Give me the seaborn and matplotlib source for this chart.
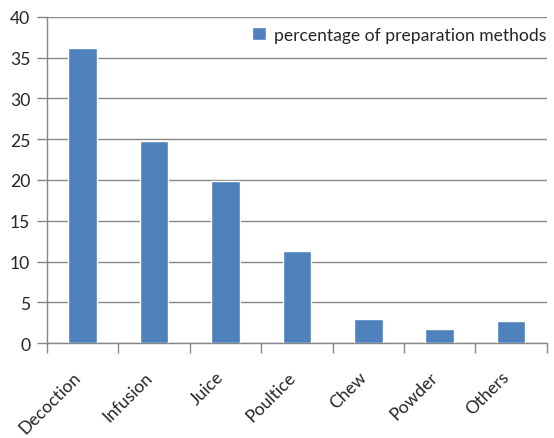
import matplotlib
matplotlib.use("Agg")
import matplotlib.pyplot as plt
import matplotlib.transforms as mtransforms
import seaborn as sns
import pandas as pd
from matplotlib.ticker import FixedLocator

methods = ["Decoction", "Infusion", "Juice", "Poultice", "Chew", "Powder", "Others"]
percentages = [36.2, 24.8, 19.9, 11.3, 2.9, 1.7, 2.7]
series_name = "percentage of preparation methods"
y_ticks = [0, 5, 10, 15, 20, 25, 30, 35, 40]

df = pd.DataFrame({"method": methods, "pct": percentages})

sns.set_style("white")
plt.rcParams["font.family"] = ["Lato", "DejaVu Sans"]

fig = plt.figure(figsize=(5.54, 4.39), dpi=100)
ax = fig.add_axes([0.0848, 0.2164, 0.9022, 0.7426])

bar_color = "#4F81BD"
grid_color = "#878787"
fs = 12.6

sns.barplot(data=df, x="method", y="pct", color=bar_color, width=0.4,
            saturation=1, label=series_name, ax=ax, zorder=3)

ax.set_xlim(-0.5, len(methods) - 0.5)
ax.set_ylim(0, 40)
ax.set_yticks(y_ticks)
ax.yaxis.grid(True, color=grid_color, linewidth=1)
ax.set_axisbelow(True)

for side in ["top", "right"]:
    ax.spines[side].set_visible(False)
for side in ["left", "bottom"]:
    ax.spines[side].set_color(grid_color)
    ax.spines[side].set_linewidth(1)

ax.set_xlabel("")
ax.set_ylabel("")

# category labels centred, tick marks on category boundaries
ax.tick_params(axis="x", which="major", length=0, pad=9, labelsize=fs)
ax.xaxis.set_minor_locator(FixedLocator([i - 0.5 for i in range(len(methods) + 1)]))
ax.tick_params(axis="x", which="minor", length=7, color=grid_color, width=1,
               direction="out", bottom=True)
ax.tick_params(axis="y", length=7, color=grid_color, width=1, direction="out",
               labelsize=fs, pad=5, left=True)
shift = mtransforms.ScaledTranslation(-0.10, -0.13, fig.dpi_scale_trans)
for lbl in ax.get_xticklabels():
    lbl.set_rotation(45)
    lbl.set_ha("right")
    lbl.set_rotation_mode("anchor")
    lbl.set_transform(lbl.get_transform() + shift)

leg = ax.legend(loc="upper right", frameon=False, fontsize=fs,
                handlelength=0.8, handleheight=0.8, handletextpad=0.45,
                bbox_to_anchor=(1.018, 1.0), borderaxespad=0.15)

fig.savefig("out.png", dpi=100)
